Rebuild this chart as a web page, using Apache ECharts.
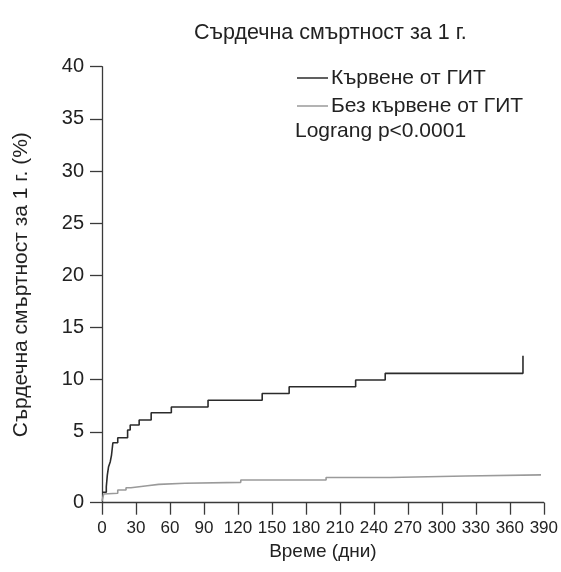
<!DOCTYPE html>
<html>
<head>
<meta charset="utf-8">
<script src="https://cdn.jsdelivr.net/npm/echarts@6/dist/echarts.min.js"></script>
<style>html,body{margin:0;padding:0;background:#fff}#c{width:561px;height:572px}</style>
</head>
<body>
<div id="c"></div>
<script>
// ---- data ----
const titleText = 'Сърдечна смъртност за 1 г.';
const xName = 'Време (дни)';
const yName = 'Сърдечна смъртност за 1 г. (%)';
const seriesNames = ['Кървене от ГИТ', 'Без кървене от ГИТ'];
const statText = 'Lograng p<0.0001';

const xTicks = [0, 30, 60, 90, 120, 150, 180, 210, 240, 270, 300, 330, 360, 390];
const yTicks = [5, 10, 15, 20, 25, 30, 35, 40];
const yFloor = -1.8;   // bottom of the axis, labelled "0" in the reference
const yFloorLabel = '0';

// bleeding group (days, cumulative %)
const bleedDays = [0, 3.8, 4.7, 5.8, 7.3, 8.4, 9.6, 13.9, 22.6, 24.9, 32.8, 43.4, 61.2, 93.6, 141.4, 165.2, 223.9, 250, 371.6];
const bleedPct  = [-0.8, -0.27, 0.85, 1.65, 2.13, 2.77, 3.95, 4.43, 5.17, 5.65, 6.13, 6.83, 7.37, 8.02, 8.67, 9.32, 9.96, 10.6, 12.3];

// no bleeding group
const noBleedDays = [0, 1.5, 3, 13.9, 21.2, 25.5, 40, 50, 73.3, 122.5, 197.8, 254.3, 321, 387.5];
const noBleedPct  = [-1.64, -0.97, -0.9, -0.58, -0.36, -0.17, -0.04, 0.06, 0.15, 0.37, 0.61, 0.76, 0.87, 0.87];

const zip = (a, b) => a.map((v, i) => [v, b[i]]);
const FONT = 'Liberation Sans, Arial, sans-serif';
const AX = '#3a3a3a';
const TXT = '#222';

const chart = echarts.init(document.getElementById('c'), null, {renderer: 'canvas'});
chart.setOption({
  animation: false,
  backgroundColor: '#fff',
  textStyle: {fontFamily: FONT},
  title: {
    text: titleText, left: 189, top: 17,
    textStyle: {fontFamily: FONT, fontSize: 21.5, fontWeight: 'normal', color: TXT}
  },
  legend: {
    orient: 'vertical', left: 292, top: 62, itemGap: 6,
    icon: 'rect', itemWidth: 31, itemHeight: 1.5,
    data: seriesNames,
    textStyle: {fontFamily: FONT, fontSize: 21, color: TXT, padding: [0, 0, 0, -2], lineHeight: 22}
  },
  graphic: [{
    type: 'text', left: 295, top: 121,
    style: {text: statText, font: '21px ' + FONT, fill: TXT}
  }],
  grid: {left: 102, right: 10, top: 66.7, bottom: 69.3},
  xAxis: {
    type: 'value', min: xTicks[0], max: xTicks[xTicks.length - 1], interval: 30,
    name: xName, nameLocation: 'middle', nameGap: 40,
    nameTextStyle: {fontFamily: FONT, fontSize: 19, color: TXT},
    axisLine: {onZero: false, lineStyle: {color: AX, width: 1.3}},
    axisTick: {length: 12, lineStyle: {color: AX, width: 1.3}},
    axisLabel: {fontFamily: FONT, fontSize: 17, color: TXT, margin: 17},
    splitLine: {show: false}
  },
  yAxis: {
    type: 'value', min: yFloor, max: yTicks[yTicks.length - 1],
    name: yName, nameLocation: 'middle', nameGap: 70,
    nameTextStyle: {fontFamily: FONT, fontSize: 21, color: TXT},
    axisLine: {show: true, onZero: false, lineStyle: {color: AX, width: 1.3}},
    axisTick: {show: true, length: 12, customValues: [yFloor].concat(yTicks), lineStyle: {color: AX, width: 1.3}},
    axisLabel: {
      fontFamily: FONT, fontSize: 20, color: TXT, margin: 18,
      customValues: [yFloor].concat(yTicks),
      formatter: v => (Math.abs(v - yFloor) < 1e-6 ? yFloorLabel : String(v))
    },
    splitLine: {show: false}
  },
  series: [
    {
      name: seriesNames[0], type: 'line', step: 'end', symbol: 'none',
      lineStyle: {color: '#2b2b2b', width: 1.6}, itemStyle: {color: '#2b2b2b'},
      data: zip(bleedDays, bleedPct)
    },
    {
      name: seriesNames[1], type: 'line', step: 'end', symbol: 'none',
      lineStyle: {color: '#9a9a9a', width: 1.6}, itemStyle: {color: '#9a9a9a'},
      data: zip(noBleedDays, noBleedPct)
    }
  ]
});
</script>
</body>
</html>
